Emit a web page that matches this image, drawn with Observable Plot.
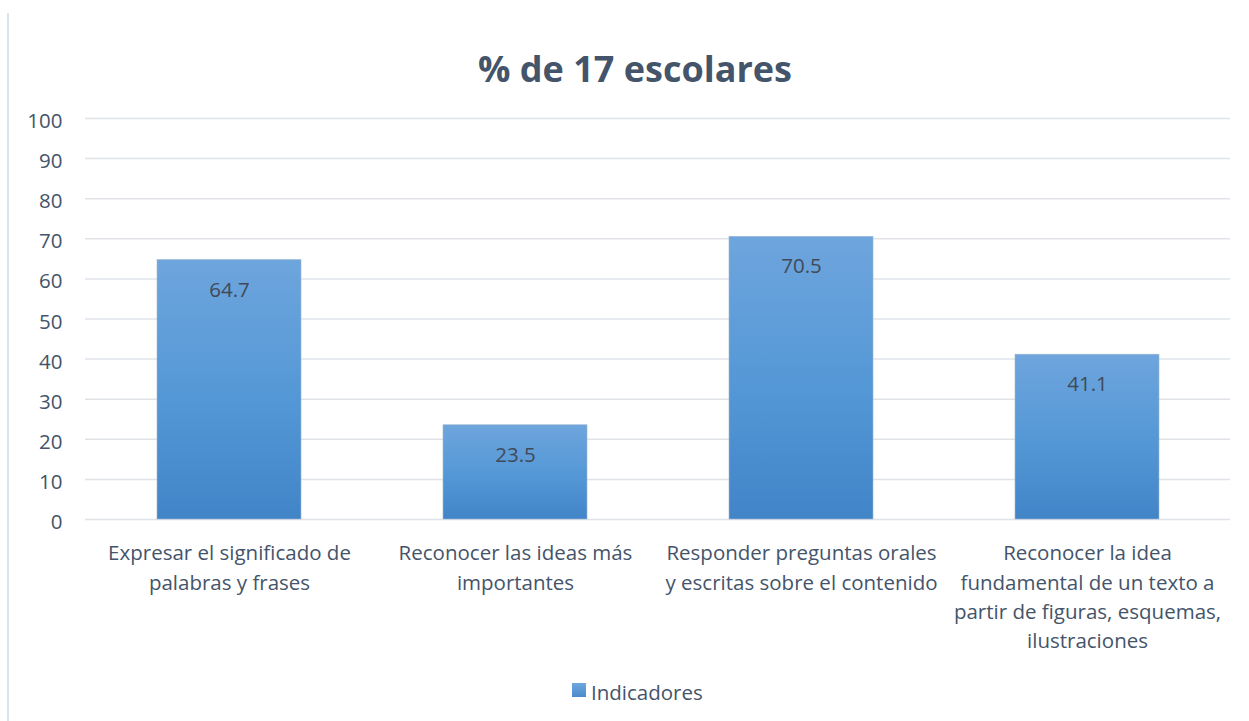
<!DOCTYPE html>
<html>
<head>
<meta charset="utf-8">
<script src="https://cdn.jsdelivr.net/npm/d3@7"></script>
<script src="https://cdn.jsdelivr.net/npm/@observablehq/plot@0.6"></script>
<style>
  html, body { margin: 0; padding: 0; background: #fff; }
  #wrap { position: relative; width: 1249px; height: 721px; font-family: "Open Sans", Lato, sans-serif; overflow: hidden; }
  #vline { position: absolute; left: 7px; top: 13px; width: 2px; height: 720px; background: #dde3ea; }
  #title { position: absolute; left: 0; top: 44px; width: 1270px; text-align: center; font-size: 36px; font-weight: bold; color: #44546a; line-height: 50px; }
  #chart { position: absolute; left: 0; top: 100px; }
  #legend { position: absolute; left: 572px; top: 678px; display: flex; align-items: center; font-size: 20.5px; color: #44546a; }
  #legend .sw { width: 14px; height: 14px; background: linear-gradient(#6fa6de, #4a8bcc); margin-right: 5px; margin-top: -4px; }
</style>
</head>
<body>
<div id="wrap">
  <div id="vline"></div>
  <div id="title">% de 17 escolares</div>
  <div id="chart"></div>
  <div id="legend"><div class="sw"></div><span>Indicadores</span></div>
</div>
<script>
const categories = [
  "Expresar el significado de palabras y frases",
  "Reconocer las ideas más importantes",
  "Responder preguntas orales y escritas sobre el contenido",
  "Reconocer la idea fundamental de un texto a partir de figuras, esquemas, ilustraciones"
];
const tickLabels = [
  "Expresar el significado de\npalabras y frases",
  "Reconocer las ideas más\nimportantes",
  "Responder preguntas orales\ny escritas sobre el contenido",
  "Reconocer la idea\nfundamental de un texto a\npartir de figuras, esquemas,\nilustraciones"
];
const values = [64.7, 23.5, 70.5, 41.1];
const yTicks = [0, 10, 20, 30, 40, 50, 60, 70, 80, 90, 100];

const data = categories.map((c, i) => ({category: c, value: values[i], label: tickLabels[i]}));
const labelOf = new Map(data.map(d => [d.category, d.label]));

const chart = Plot.plot({
  width: 1249,
  height: 570,
  marginTop: 18,
  marginBottom: 151,
  marginLeft: 85,
  marginRight: 19,
  style: {fontFamily: "'Open Sans', Lato, sans-serif", background: "transparent"},
  x: {domain: categories, paddingInner: 0.497, paddingOuter: 0.2485, align: 0.5},
  y: {domain: [0, 100]},
  marks: [
    Plot.ruleY(yTicks, {stroke: "#dfe3e8", strokeWidth: 1.5}),
    Plot.barY(data, {x: "category", y: "value", fill: "url(#barGrad)", stroke: "#9fb6cf", strokeWidth: 0.6}),
    Plot.text(data, {x: "category", y: "value", text: d => d.value.toFixed(1), dy: 30, fill: "#404a58", fontSize: 20.5}),
    Plot.axisY({ticks: yTicks, tickSize: 0, tickPadding: 23, dy: 3, fontSize: 20.5, color: "#44546a", label: null}),
    Plot.axisX({tickSize: 0, tickPadding: 20, fontSize: 20.5, color: "#44546a", label: null, lineHeight: 1.43, tickFormat: d => labelOf.get(d)})
  ]
});

const ns = "http://www.w3.org/2000/svg";
const defs = document.createElementNS(ns, "defs");
const grad = document.createElementNS(ns, "linearGradient");
grad.setAttribute("id", "barGrad");
grad.setAttribute("x1", "0"); grad.setAttribute("y1", "0");
grad.setAttribute("x2", "0"); grad.setAttribute("y2", "1");
[["0%", "#6ea5dd"], ["55%", "#5397d6"], ["100%", "#4185c8"]].forEach(([o, c]) => {
  const s = document.createElementNS(ns, "stop");
  s.setAttribute("offset", o); s.setAttribute("stop-color", c);
  grad.appendChild(s);
});
defs.appendChild(grad);
chart.insertBefore(defs, chart.firstChild);
document.getElementById("chart").appendChild(chart);
</script>
</body>
</html>
